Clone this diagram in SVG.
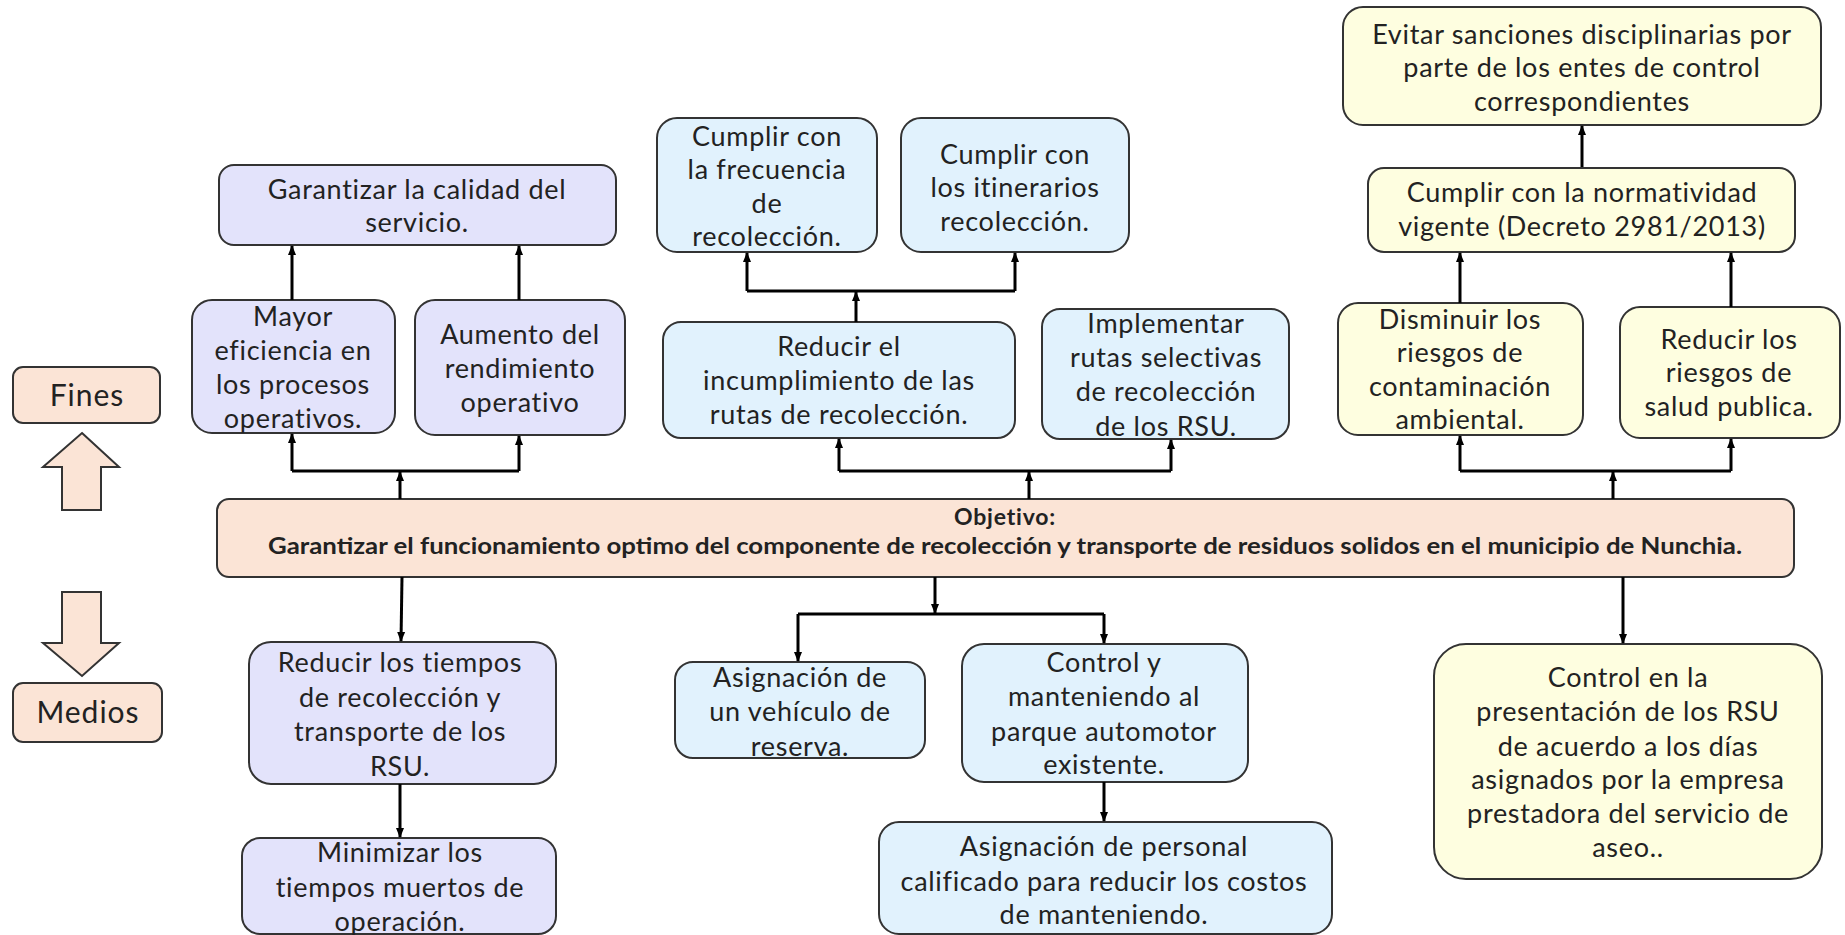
<svg xmlns="http://www.w3.org/2000/svg" width="1845" height="935" viewBox="0 0 1845 935">
<defs>
<marker id="ah" markerWidth="10" markerHeight="10" refX="9" refY="5" orient="auto" markerUnits="userSpaceOnUse">
<path d="M0,1 L10,5 L0,9 Z" fill="#000"/>
</marker>
<style>
.box{stroke:#333;stroke-width:2}
.pur{fill:#E3E3FB}
.blu{fill:#E1F2FD}
.yel{fill:#FEFEE0}
.pea{fill:#FBE4D6}
text{font-family:Lato,"Liberation Sans",sans-serif;font-size:27px;letter-spacing:0.7px;fill:#222;text-anchor:middle}
.lbl{font-size:30px;letter-spacing:1px}
.b{font-weight:bold;font-size:22px;letter-spacing:0}
.b1{font-weight:bold;font-size:23px;letter-spacing:0.8px}
.con{stroke:#000;stroke-width:3;fill:none}
.arr{marker-end:url(#ah)}
</style>
</defs>
<rect width="1845" height="935" fill="#fff"/>

<g id="fines">
<rect class="box pea" x="13" y="367" width="147" height="56" rx="10"/>
<text class="lbl" x="87" y="406">Fines</text>
</g>
<g id="arrow-up">
<path class="box pea" d="M82,433 L119,467 L101,467 L101,510 L62,510 L62,467 L43,467 Z"/>
</g>
<g id="arrow-down">
<path class="box pea" d="M62,592 L101,592 L101,643 L119,643 L82,676 L43,643 L62,643 Z"/>
</g>
<g id="medios">
<rect class="box pea" x="13" y="683" width="149" height="59" rx="10"/>
<text class="lbl" x="88" y="723">Medios</text>
</g>

<g id="objetivo">
<rect class="box pea" x="217" y="499" width="1577" height="78" rx="12"/>
<text class="b1" x="1005" y="525">Objetivo:</text>
<text class="b" x="1005" y="554" textLength="1474" lengthAdjust="spacingAndGlyphs">Garantizar el funcionamiento optimo del componente  de recolección y transporte de residuos solidos en el municipio de Nunchia.</text>
</g>

<g id="garantizar-calidad">
<rect class="box pur" x="219" y="165" width="397" height="80" rx="15"/>
<text x="417" y="199"><tspan x="417">Garantizar la calidad del</tspan><tspan x="417" dy="33">servicio.</tspan></text>
</g>
<g id="mayor-eficiencia">
<rect class="box pur" x="192" y="300" width="203" height="133" rx="20"/>
<text x="293" y="326"><tspan x="293">Mayor</tspan><tspan x="293" dy="34">eficiencia en</tspan><tspan x="293" dy="34">los procesos</tspan><tspan x="293" dy="34">operativos.</tspan></text>
</g>
<g id="aumento-rendimiento">
<rect class="box pur" x="415" y="300" width="210" height="135" rx="20"/>
<text x="520" y="344"><tspan x="520">Aumento del</tspan><tspan x="520" dy="34">rendimiento</tspan><tspan x="520" dy="34">operativo</tspan></text>
</g>

<g id="cumplir-frecuencia">
<rect class="box blu" x="657" y="118" width="220" height="134" rx="20"/>
<text x="767" y="146"><tspan x="767">Cumplir con</tspan><tspan x="767" dy="33">la frecuencia</tspan><tspan x="767" dy="34">de</tspan><tspan x="767" dy="33">recolección.</tspan></text>
</g>
<g id="cumplir-itinerarios">
<rect class="box blu" x="901" y="118" width="228" height="134" rx="20"/>
<text x="1015" y="164"><tspan x="1015">Cumplir con</tspan><tspan x="1015" dy="33">los itinerarios</tspan><tspan x="1015" dy="34">recolección.</tspan></text>
</g>
<g id="reducir-incumplimiento">
<rect class="box blu" x="663" y="322" width="352" height="116" rx="18"/>
<text x="839" y="356"><tspan x="839">Reducir el</tspan><tspan x="839" dy="34">incumplimiento de las</tspan><tspan x="839" dy="34">rutas de recolección.</tspan></text>
</g>
<g id="implementar-rutas">
<rect class="box blu" x="1042" y="309" width="247" height="130" rx="18"/>
<text x="1166" y="333"><tspan x="1166">Implementar</tspan><tspan x="1166" dy="34">rutas selectivas</tspan><tspan x="1166" dy="34">de recolección</tspan><tspan x="1166" dy="35">de los RSU.</tspan></text>
</g>

<g id="evitar-sanciones">
<rect class="box yel" x="1343" y="7" width="478" height="118" rx="20"/>
<text x="1582" y="44"><tspan x="1582">Evitar sanciones disciplinarias por</tspan><tspan x="1582" dy="33">parte de los entes de control</tspan><tspan x="1582" dy="34">correspondientes</tspan></text>
</g>
<g id="cumplir-normatividad">
<rect class="box yel" x="1368" y="168" width="427" height="84" rx="16"/>
<text x="1582" y="202"><tspan x="1582">Cumplir con la normatividad</tspan><tspan x="1582" dy="34">vigente (Decreto 2981/2013)</tspan></text>
</g>
<g id="disminuir-riesgos">
<rect class="box yel" x="1338" y="303" width="245" height="132" rx="20"/>
<text x="1460" y="329"><tspan x="1460">Disminuir los</tspan><tspan x="1460" dy="33">riesgos de</tspan><tspan x="1460" dy="34">contaminación</tspan><tspan x="1460" dy="33">ambiental.</tspan></text>
</g>
<g id="reducir-riesgos-salud">
<rect class="box yel" x="1620" y="307" width="220" height="131" rx="20"/>
<text x="1729" y="349"><tspan x="1729">Reducir los</tspan><tspan x="1729" dy="33">riesgos de</tspan><tspan x="1729" dy="34">salud publica.</tspan></text>
</g>

<g id="reducir-tiempos">
<rect class="box pur" x="249" y="642" width="307" height="142" rx="22"/>
<text x="400" y="672"><tspan x="400">Reducir los tiempos</tspan><tspan x="400" dy="35">de recolección y</tspan><tspan x="400" dy="34">transporte de los</tspan><tspan x="400" dy="35">RSU.</tspan></text>
</g>
<g id="minimizar-tiempos">
<rect class="box pur" x="242" y="838" width="314" height="96" rx="18"/>
<text x="400" y="862"><tspan x="400">Minimizar los</tspan><tspan x="400" dy="35">tiempos muertos de</tspan><tspan x="400" dy="34">operación.</tspan></text>
</g>

<g id="asignacion-vehiculo">
<rect class="box blu" x="675" y="662" width="250" height="96" rx="18"/>
<text x="800" y="687"><tspan x="800">Asignación de</tspan><tspan x="800" dy="34">un vehículo de</tspan><tspan x="800" dy="35">reserva.</tspan></text>
</g>
<g id="control-mantenimiento">
<rect class="box blu" x="962" y="644" width="286" height="138" rx="22"/>
<text x="1104" y="672"><tspan x="1104">Control y</tspan><tspan x="1104" dy="34">manteniendo al</tspan><tspan x="1104" dy="35">parque automotor</tspan><tspan x="1104" dy="33">existente.</tspan></text>
</g>
<g id="asignacion-personal">
<rect class="box blu" x="879" y="822" width="453" height="112" rx="20"/>
<text x="1104" y="856"><tspan x="1104">Asignación de personal</tspan><tspan x="1104" dy="35">calificado para reducir los costos</tspan><tspan x="1104" dy="33">de manteniendo.</tspan></text>
</g>

<g id="control-presentacion">
<rect class="box yel" x="1434" y="644" width="388" height="235" rx="32"/>
<text x="1628" y="687"><tspan x="1628">Control en la</tspan><tspan x="1628" dy="34">presentación de los RSU</tspan><tspan x="1628" dy="35">de acuerdo a los días</tspan><tspan x="1628" dy="33">asignados por la empresa</tspan><tspan x="1628" dy="34">prestadora del servicio de</tspan><tspan x="1628" dy="34">aseo..</tspan></text>
</g>

<g id="connectors">
<path class="con arr" d="M400,499 V472"/>
<path class="con" d="M292,471 H519"/>
<path class="con arr" d="M292,471 V434"/>
<path class="con arr" d="M519,471 V436"/>
<path class="con arr" d="M292,300 V246"/>
<path class="con arr" d="M519,300 V246"/>

<path class="con arr" d="M1029,499 V472"/>
<path class="con" d="M839,471 H1171"/>
<path class="con arr" d="M839,471 V439"/>
<path class="con arr" d="M1171,471 V440"/>
<path class="con arr" d="M856,322 V292"/>
<path class="con" d="M747,291 H1015"/>
<path class="con arr" d="M747,291 V253"/>
<path class="con arr" d="M1015,291 V253"/>

<path class="con arr" d="M1613,499 V472"/>
<path class="con" d="M1460,471 H1731"/>
<path class="con arr" d="M1460,471 V436"/>
<path class="con arr" d="M1731,471 V439"/>
<path class="con arr" d="M1460,303 V253"/>
<path class="con arr" d="M1731,307 V253"/>
<path class="con arr" d="M1582,167 V126"/>

<path class="con arr" d="M402,577 L401,641"/>
<path class="con arr" d="M400,784 V837"/>
<path class="con arr" d="M935,577 V613"/>
<path class="con" d="M798,614 H1104"/>
<path class="con arr" d="M798,614 V661"/>
<path class="con arr" d="M1104,614 V643"/>
<path class="con arr" d="M1104,782 V821"/>
<path class="con arr" d="M1623,577 V643"/>
</g>
</svg>
